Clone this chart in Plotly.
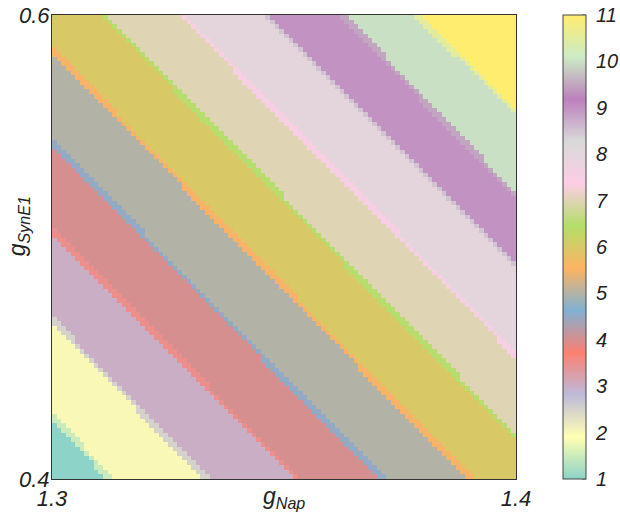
import numpy as np
import plotly.graph_objects as go

# Parameter plane: persistent sodium conductance vs. excitatory synaptic conductance
g_nap_range = [1.3, 1.4]
g_syne1_range = [0.4, 0.6]
n_cells = 100

# Colour-bar levels
levels = [1, 2, 3, 4, 5, 6, 7, 8, 9, 10, 11]

# Straight boundaries between consecutive levels, each through two points (g_Nap, g_SynE1)
boundary_start_x = [1.3000, 1.3000, 1.3000, 1.3000, 1.3000, 1.3112, 1.3280, 1.3460, 1.3626, 1.3787]
boundary_start_y = [0.4276, 0.4686, 0.5074, 0.5450, 0.5851, 0.6000, 0.6000, 0.6000, 0.6000, 0.6000]
boundary_end_x = [1.3125, 1.3334, 1.3529, 1.3714, 1.3902, 1.4000, 1.4000, 1.4000, 1.4000, 1.4000]
boundary_end_y = [0.4000, 0.4000, 0.4000, 0.4000, 0.4000, 0.4177, 0.4535, 0.4923, 0.5217, 0.5579]

# Qualitative palette spread evenly over the level range
palette = ['rgb(141,211,199)', 'rgb(255,255,179)', 'rgb(190,186,218)', 'rgb(251,128,114)',
           'rgb(128,177,211)', 'rgb(253,180,98)', 'rgb(179,222,105)', 'rgb(252,205,229)',
           'rgb(217,217,217)', 'rgb(188,128,189)', 'rgb(204,235,197)', 'rgb(255,237,111)']

# --- grid -------------------------------------------------------------------
dx = (g_nap_range[1] - g_nap_range[0]) / n_cells
dy = (g_syne1_range[1] - g_syne1_range[0]) / n_cells
x = g_nap_range[0] + (np.arange(n_cells) + 0.5) * dx
y = g_syne1_range[0] + (np.arange(n_cells) + 0.5) * dy
ci = (x - g_nap_range[0]) / dx
cj = (y - g_syne1_range[0]) / dy
CI, CJ = np.meshgrid(ci, cj)

# cells straddling a boundary take the half-way value
z = np.full(CI.shape, float(levels[0]))
for x0, y0, x1, y1 in zip(boundary_start_x, boundary_start_y, boundary_end_x, boundary_end_y):
    i0, j0 = (x0 - g_nap_range[0]) / dx, (y0 - g_syne1_range[0]) / dy
    i1, j1 = (x1 - g_nap_range[0]) / dx, (y1 - g_syne1_range[0]) / dy
    ni, nj = -(j1 - j0), (i1 - i0)
    if ni + nj < 0:
        ni, nj = -ni, -nj
    s = (ni * (CI - i0) + nj * (CJ - j0)) / max(abs(ni), abs(nj))
    z += np.where(s > 0.8, 1.0, np.where(s >= -0.8, 0.5, 0.0))

n = len(palette)
colorscale = [[k / (n - 1), c] for k, c in enumerate(palette)]

font_family = "Liberation Sans, Arial, sans-serif"
tick_font = dict(family=font_family, size=22, color="#222", style="italic")
cb_font = dict(family=font_family, size=20, color="#222", style="italic")

margin_l, margin_r = 52, 104
plot_w = 620 - margin_l - margin_r
cb_x = (563 - margin_l) / plot_w
cb_thickness = 23

fig = go.Figure(go.Heatmap(
    x=x, y=y, z=z,
    zmin=levels[0], zmax=levels[-1],
    colorscale=colorscale,
    zsmooth=False,
    colorbar=dict(
        x=cb_x, xanchor="left", xpad=0,
        y=0.5, yanchor="middle", ypad=0,
        len=1,
        thickness=cb_thickness,
        outlinewidth=1, outlinecolor="#444",
        tickvals=levels, ticktext=[str(v) for v in levels],
        ticks="outside", ticklen=6, tickcolor="rgba(0,0,0,0)",
        tickfont=cb_font,
    ),
))

# short tick marks drawn on the inner right edge of the colour bar
for v in levels:
    yp = (v - levels[0]) / (levels[-1] - levels[0])
    xr = cb_x + cb_thickness / plot_w
    fig.add_shape(type="line", xref="paper", yref="paper",
                  x0=xr - 4 / plot_w, x1=xr, y0=yp, y1=yp,
                  line=dict(color="#555", width=1))

axis_common = dict(showline=True, mirror=True, linecolor="#333", linewidth=1,
                   ticks="", showgrid=False, zeroline=False, tickfont=tick_font)
fig.update_xaxes(range=g_nap_range, tickvals=g_nap_range,
                 ticktext=[f"{v:.1f}" for v in g_nap_range], **axis_common)
fig.update_yaxes(range=g_syne1_range, tickvals=g_syne1_range,
                 ticktext=[f"{v:.1f}" for v in g_syne1_range], ticklabelstandoff=-3,
                 **axis_common)

title_font = dict(family=font_family, size=23, color="#222", style="italic")
fig.add_annotation(text="g<sub>Nap</sub>", xref="paper", yref="paper", x=0.5, y=-0.04,
                   xanchor="center", yanchor="middle", showarrow=False, font=title_font)
fig.add_annotation(text="g<sub>SynE1</sub>", xref="paper", yref="paper", x=-0.073, y=0.545,
                   xanchor="center", yanchor="middle", textangle=-90, showarrow=False, font=title_font)

fig.update_layout(
    width=620, height=514,
    margin=dict(l=margin_l, r=margin_r, t=15, b=35, autoexpand=False),
    paper_bgcolor="white", plot_bgcolor="white",
)

fig.write_html("out.html")
